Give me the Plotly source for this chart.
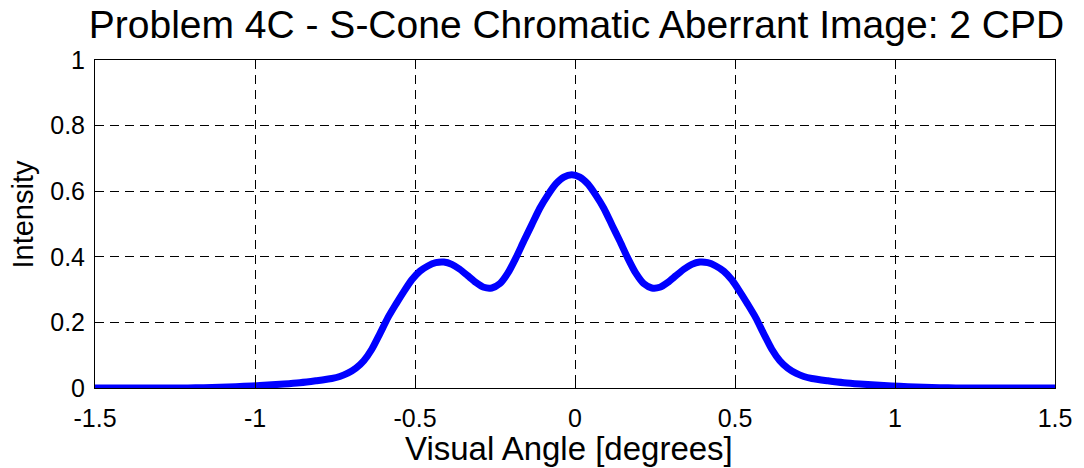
import plotly.graph_objects as go

# Visual angle samples [degrees]
visual_angle = [
    -1.5, -1.31, -1.21, -1.16, -1.11, -1.06, -1.01, -0.96, -0.91, -0.86,
    -0.81, -0.76, -0.735, -0.71, -0.685, -0.66, -0.635, -0.61, -0.585, -0.56,
    -0.535, -0.51, -0.485, -0.46, -0.435, -0.41, -0.385, -0.36, -0.335, -0.31,
    -0.285, -0.26, -0.235, -0.21, -0.185, -0.16, -0.135, -0.11, -0.085, -0.06,
    -0.035, -0.01,
    0.015, 0.04, 0.065, 0.09, 0.115, 0.14, 0.165, 0.19, 0.215, 0.24,
    0.265, 0.29, 0.315, 0.34, 0.365, 0.39, 0.415, 0.44, 0.465, 0.49,
    0.515, 0.54, 0.565, 0.59, 0.615, 0.64, 0.665, 0.69, 0.715, 0.74,
    0.79, 0.84, 0.89, 0.94, 0.99, 1.04, 1.09, 1.14, 1.19, 1.3, 1.5,
]

# Image intensity at each sample
intensity = [
    0.0, 0.0, 0.0, 0.001, 0.002, 0.004, 0.006, 0.009, 0.012, 0.016,
    0.022, 0.029, 0.035, 0.045, 0.060, 0.083, 0.118, 0.165, 0.214, 0.255,
    0.294, 0.330, 0.356, 0.372, 0.382, 0.384, 0.377, 0.362, 0.342, 0.322,
    0.307, 0.305, 0.318, 0.350, 0.396, 0.448, 0.498, 0.548, 0.588, 0.622,
    0.643, 0.650,
    0.643, 0.622, 0.588, 0.548, 0.498, 0.448, 0.396, 0.350, 0.318, 0.305,
    0.307, 0.322, 0.342, 0.362, 0.377, 0.384, 0.382, 0.372, 0.356, 0.330,
    0.294, 0.255, 0.214, 0.165, 0.118, 0.083, 0.060, 0.045, 0.035, 0.029,
    0.022, 0.016, 0.012, 0.009, 0.006, 0.004, 0.002, 0.001, 0.0, 0.0, 0.0,
]

x_ticks = [-1.5, -1, -0.5, 0, 0.5, 1, 1.5]
x_tick_text = ["-1.5", "-1", "-0.5", "0", "0.5", "1", "1.5"]
y_ticks = [0, 0.2, 0.4, 0.6, 0.8, 1]
y_tick_text = ["0", "0.2", "0.4", "0.6", "0.8", "1"]

FONT = "Liberation Sans, Arial, sans-serif"
W, H = 1084, 468
M_L, M_R, M_T, M_B = 95, 22, 60, 80
PLOT_H = H - M_T - M_B

fig = go.Figure()
fig.add_trace(go.Scatter(
    x=visual_angle, y=intensity, mode="lines",
    line=dict(color="#0000ff", width=7, shape="spline", smoothing=0.6),
    showlegend=False, hoverinfo="skip",
))

axis_common = dict(
    showline=True, linecolor="black", linewidth=1, mirror="ticks",
    ticks="inside", ticklen=7, tickwidth=1, tickcolor="black",
    showgrid=True, gridcolor="black", gridwidth=1, griddash="9px,6px",
    zeroline=False, tickfont=dict(family=FONT, size=25, color="black"),
)

fig.update_xaxes(range=[-1.5, 1.5], tickvals=x_ticks, ticktext=x_tick_text,
                 ticklabelstandoff=8, **axis_common)
fig.update_yaxes(range=[0, 1], tickvals=y_ticks, ticktext=y_tick_text,
                 ticklabelstandoff=4, **axis_common)


def paper_y(px):
    """Convert a pixel row of the page into paper y coordinates."""
    return (H - M_B - px) / PLOT_H


fig.add_annotation(
    text="Visual Angle [degrees]", xref="paper", yref="paper",
    x=0.4935, y=paper_y(448), xanchor="center", yanchor="middle",
    showarrow=False, font=dict(family=FONT, size=33, color="black"),
)
fig.add_annotation(
    text="Intensity", xref="paper", yref="paper",
    x=(22 - M_L) / (W - M_L - M_R), y=paper_y(214), xanchor="center", yanchor="middle",
    textangle=-90, showarrow=False, font=dict(family=FONT, size=29, color="black"),
)

fig.update_layout(
    width=W, height=H,
    margin=dict(l=M_L, r=M_R, t=M_T, b=M_B),
    paper_bgcolor="white", plot_bgcolor="white",
    title=dict(
        text="Problem 4C - S-Cone Chromatic Aberrant Image: 2 CPD",
        font=dict(family=FONT, size=39, color="black"),
        x=576.5 / W, xanchor="center", y=1 - 24 / H, yanchor="middle",
    ),
)

fig.write_html("out.html")
